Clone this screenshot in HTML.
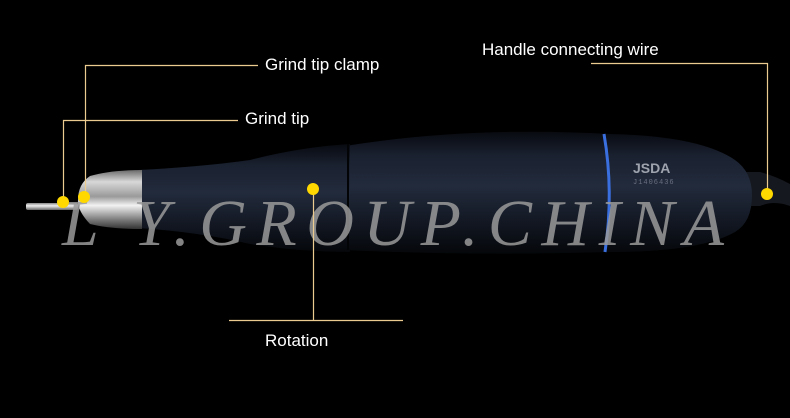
<!DOCTYPE html>
<html><head><meta charset="utf-8"><style>
html,body{margin:0;padding:0;background:#000;}
svg{display:block}
</style></head><body>
<svg width="790" height="418" viewBox="0 0 790 418" xmlns="http://www.w3.org/2000/svg">
<defs>
<linearGradient id="body" x1="0" y1="0" x2="0" y2="1">
<stop offset="0" stop-color="#080a10"/>
<stop offset="0.2" stop-color="#1a2130"/>
<stop offset="0.45" stop-color="#222b3c"/>
<stop offset="0.75" stop-color="#121722"/>
<stop offset="1" stop-color="#05070a"/>
</linearGradient>
<linearGradient id="metal" x1="0" y1="0" x2="0" y2="1">
<stop offset="0" stop-color="#6a6a6a"/>
<stop offset="0.2" stop-color="#d8d8d8"/>
<stop offset="0.45" stop-color="#9a9a9a"/>
<stop offset="0.6" stop-color="#f2f2f2"/>
<stop offset="0.85" stop-color="#777"/>
<stop offset="1" stop-color="#333"/>
</linearGradient>
<linearGradient id="pin" x1="0" y1="0" x2="0" y2="1">
<stop offset="0" stop-color="#888"/><stop offset="0.4" stop-color="#eee"/><stop offset="1" stop-color="#666"/>
</linearGradient>
</defs>
<rect width="790" height="418" fill="#000"/>
<path d="M742 172 L760 172 Q775 176 790 184 L790 206 Q774 200 760 206 L742 206 Z" fill="#15181e"/>
<rect x="26" y="203" width="52" height="7" rx="2" fill="url(#pin)"/>
<path d="M345 146 Q470 126 610 134 Q700 136 735 160 Q752 172 752 195 Q752 222 735 232 Q700 252 610 252 Q470 256 345 250 Z" fill="url(#body)"/>
<path d="M138 170 Q200 167 250 160 Q300 147 350 144 L350 252 Q300 252 250 244 Q200 232 138 228 Z" fill="url(#body)"/>
<line x1="348" y1="144" x2="348" y2="250" stroke="#030405" stroke-width="2"/>
<path d="M90 176 Q110 170 142 170 L142 229 Q110 229 90 224 Q77 210 78 200 Q78 184 90 176 Z" fill="url(#metal)"/>
<path d="M604 134 Q614 192 605 252" stroke="#3a6fe0" stroke-width="3" fill="none"/>
<text x="633" y="173" font-family="Liberation Sans,sans-serif" font-weight="bold" font-size="14" fill="#9ea3ad">JSDA</text>
<text x="633" y="184" font-family="Liberation Mono,monospace" font-size="7" fill="#6a7080" letter-spacing="1">J1406436</text>
<text x="62" y="245" font-family="Liberation Serif,serif" font-style="italic" font-size="66" fill="#9a9a9a" fill-opacity="0.85" textLength="662" lengthAdjust="spacing">L Y.GROUP.CHINA</text>
<g stroke="#ebcb8f" stroke-width="1.2" fill="none">
<polyline points="258,65.5 85.5,65.5 85.5,197"/>
<polyline points="238,120.5 63.5,120.5 63.5,202"/>
<polyline points="313.5,189 313.5,320"/>
<line x1="229" y1="320.5" x2="403" y2="320.5"/>
<polyline points="591,63.5 767.5,63.5 767.5,194"/>
</g>
<g fill="#ffd800">
<circle cx="63" cy="202" r="6"/>
<circle cx="84" cy="197" r="6"/>
<circle cx="313" cy="189" r="6"/>
<circle cx="767" cy="194" r="6"/>
</g>
<g font-family="Liberation Sans,sans-serif" font-size="17" fill="#fff">
<text x="265" y="70">Grind tip clamp</text>
<text x="245" y="124">Grind tip</text>
<text x="265" y="346">Rotation</text>
<text x="482" y="55">Handle connecting wire</text>
</g>
</svg>
</body></html>
